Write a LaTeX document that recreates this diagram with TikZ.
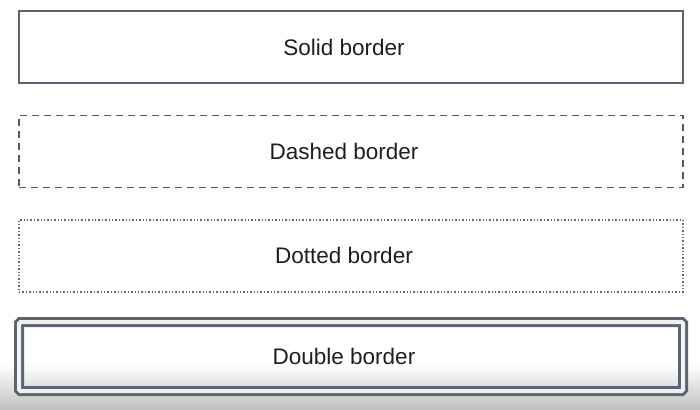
\documentclass[tikz,border=0pt]{standalone}
\usepackage{fontspec}
\setmainfont{Liberation Sans}
\usetikzlibrary{positioning}

\definecolor{slateedge}{HTML}{5B6472}
\definecolor{dashedge}{HTML}{5A5A5A}
\definecolor{dotedge}{HTML}{6A6A6A}
\definecolor{labeltext}{HTML}{1E1E1E}

\begin{document}
\begin{tikzpicture}[
  x=1pt, y=-1pt,
  node distance=31pt,
  panel/.style={minimum width=664pt, minimum height=72pt, inner sep=0pt,
                text=labeltext, font=\fontsize{22.5}{26}\selectfont,
                execute at begin node=\hspace*{-14pt}},
  solidbox/.style={panel, draw=slateedge, line width=1.5pt},
  dashbox/.style={panel, draw=dashedge, line width=1.4pt, dash pattern=on 7pt off 5pt},
  dotbox/.style={panel, draw=dotedge, line width=1.4pt, dash pattern=on 1.4pt off 2pt},
  doublebox/.style={panel, minimum height=69pt, draw=slateedge, line width=3pt,
                    double=black!6, double distance=4pt, rounded corners=1.5pt}
]
  \useasboundingbox (0,0) rectangle (700,409);
  % soft shadow along the lower edge
  \shade[top color=white, bottom color=black!24] (0,364) rectangle (700,409);

  % Borders
  \node[solidbox] (solid) at (351,47) {Solid border};
  \node[dashbox, below=of solid] (dashed) {Dashed border};
  \node[dotbox, below=of dashed] (dotted) {Dotted border};
  \node[doublebox, below=28pt of dotted] (double) {Double border};
\end{tikzpicture}
\end{document}
